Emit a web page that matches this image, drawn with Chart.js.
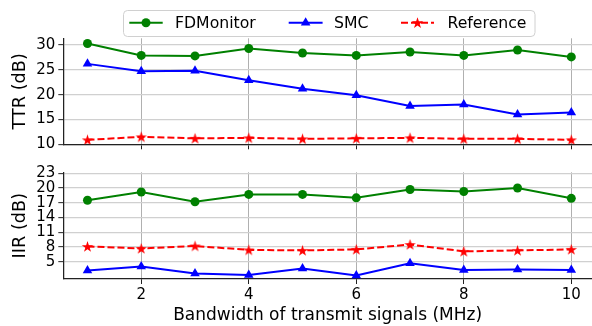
<!DOCTYPE html>
<html><head><meta charset="utf-8">
<script src="https://cdn.jsdelivr.net/npm/chart.js@4"></script>
<style>
html,body{margin:0;padding:0;background:#fff;overflow:hidden;width:592px;height:326px;}
#c1{position:absolute;left:0;top:0;}
#c2{position:absolute;left:0;top:160px;}
</style></head><body>
<canvas id="c1" width="600" height="160"></canvas>
<canvas id="c2" width="600" height="166"></canvas>
<script>
const bandwidth = [1, 2, 3, 4, 5, 6, 7, 8, 9, 10];
const ttrFDMonitor = [30.3, 27.9, 27.8, 29.3, 28.4, 27.9, 28.6, 27.9, 29.0, 27.6];
const ttrSMC = [26.2, 24.7, 24.8, 22.9, 21.2, 19.9, 17.7, 18.0, 16.0, 16.4];
const ttrReference = [10.9, 11.5, 11.2, 11.3, 11.1, 11.2, 11.3, 11.1, 11.1, 10.9];
const iirFDMonitor = [17.5, 19.2, 17.2, 18.7, 18.7, 18.0, 19.7, 19.3, 20.0, 17.9];
const iirSMC = [3.2, 4.0, 2.6, 2.3, 3.6, 2.2, 4.7, 3.3, 3.4, 3.3];
const iirReference = [8.1, 7.7, 8.2, 7.4, 7.3, 7.5, 8.5, 7.1, 7.3, 7.5];
const xTicks = [2, 4, 6, 8, 10];
const ttrTicks = [10, 15, 20, 25, 30];
const iirTicks = [5, 8, 11, 14, 17, 20, 23];
const seriesNames = ['FDMonitor', 'SMC', 'Reference'];

const GREEN = '#008000', BLUE = '#0000ff', RED = '#ff0000';
const FONT = "'DejaVu Sans', sans-serif";

function starPath(ctx, cx, cy, ro) {
  const ri = ro * 0.382;
  ctx.beginPath();
  for (let i = 0; i < 10; i++) {
    const r = i % 2 === 0 ? ro : ri;
    const a = -Math.PI / 2 + i * Math.PI / 5;
    const x = cx + r * Math.cos(a), y = cy + r * Math.sin(a);
    if (i === 0) ctx.moveTo(x, y); else ctx.lineTo(x, y);
  }
  ctx.closePath();
}
function makeStar() {
  const c = document.createElement('canvas');
  c.width = 13; c.height = 13;
  const g = c.getContext('2d');
  starPath(g, 6.5, 7, 6);
  g.fillStyle = RED; g.fill();
  return c;
}
const starImg = makeStar();

function series(vals) { return bandwidth.map((x, i) => ({x: x, y: vals[i]})); }

function datasets(fd, smc, ref) {
  return [
    {label: seriesNames[0], data: series(fd), borderColor: GREEN, backgroundColor: GREEN,
     borderWidth: 2, pointStyle: 'circle', pointRadius: 4.5, pointBorderWidth: 0, tension: 0},
    {label: seriesNames[1], data: series(smc), borderColor: BLUE, backgroundColor: BLUE,
     borderWidth: 2, pointStyle: 'triangle', pointRadius: 5.5, pointBorderWidth: 0, tension: 0},
    {label: seriesNames[2], data: series(ref), borderColor: RED, backgroundColor: RED,
     borderWidth: 2, borderDash: [7, 3], pointStyle: starImg, pointRadius: 6, tension: 0}
  ];
}

const legendPlugin = {
  id: 'mplLegend',
  afterDraw(chart) {
    const ctx = chart.ctx;
    ctx.save();
    const x0 = 123.5, y0 = 10.5, w = 411.5, h = 26, r = 4;
    ctx.beginPath();
    ctx.moveTo(x0 + r, y0); ctx.lineTo(x0 + w - r, y0); ctx.quadraticCurveTo(x0 + w, y0, x0 + w, y0 + r);
    ctx.lineTo(x0 + w, y0 + h - r); ctx.quadraticCurveTo(x0 + w, y0 + h, x0 + w - r, y0 + h);
    ctx.lineTo(x0 + r, y0 + h); ctx.quadraticCurveTo(x0, y0 + h, x0, y0 + h - r);
    ctx.lineTo(x0, y0 + r); ctx.quadraticCurveTo(x0, y0, x0 + r, y0);
    ctx.closePath();
    ctx.fillStyle = 'rgba(255,255,255,0.85)'; ctx.fill();
    ctx.strokeStyle = '#d0d0d0'; ctx.lineWidth = 1; ctx.stroke();
    const ly = 22.7;
    const items = [
      {c: GREEN, l1: 129.3, l2: 162.7, t: 175, m: 'circle', dash: []},
      {c: BLUE, l1: 288.7, l2: 322.6, t: 334, m: 'triangle', dash: []},
      {c: RED, l1: 401, l2: 434, t: 447.5, m: 'star', dash: [7, 3]}
    ];
    items.forEach((it, i) => {
      ctx.beginPath(); ctx.setLineDash(it.dash);
      ctx.strokeStyle = it.c; ctx.lineWidth = 2;
      ctx.moveTo(it.l1, ly); ctx.lineTo(it.l2, ly); ctx.stroke();
      ctx.setLineDash([]);
      const mx = (it.l1 + it.l2) / 2;
      ctx.fillStyle = it.c;
      if (it.m === 'circle') { ctx.beginPath(); ctx.arc(mx, ly, 4.5, 0, Math.PI * 2); ctx.fill(); }
      else if (it.m === 'triangle') {
        ctx.beginPath(); ctx.moveTo(mx, ly - 5.5); ctx.lineTo(mx + 4.8, ly + 2.8); ctx.lineTo(mx - 4.8, ly + 2.8); ctx.closePath(); ctx.fill();
      } else { starPath(ctx, mx, ly + 0.5, 6); ctx.fill(); }
      ctx.fillStyle = '#000'; ctx.font = '15.7px ' + FONT; ctx.textBaseline = 'alphabetic'; ctx.textAlign = 'left';
      ctx.fillText(seriesNames[i], it.t, 28.2);
    });
    ctx.restore();
  }
};

function makeChart(canvas, ds, yTicks, ymin, ymax, yTitle, opts) {
  return new Chart(canvas, {
    type: 'line',
    data: {datasets: ds},
    plugins: opts.plugins || [],
    options: {
      responsive: false, animation: false, devicePixelRatio: 1,
      layout: {padding: {top: opts.padTop, left: 0, right: 0, bottom: 0}},
      plugins: {legend: {display: false}, tooltip: {enabled: false}},
      scales: {
        x: {
          type: 'linear', min: 0.55, max: 10.385,
          afterBuildTicks: s => { s.ticks = xTicks.map(v => ({value: v})); },
          afterFit: s => { s.height = opts.xHeight; },
          grid: {color: '#b0b0b0', lineWidth: 1, tickColor: '#222', tickLength: 5, tickWidth: 1},
          border: {display: true, color: '#222', width: 1.25},
          ticks: {display: opts.showX, color: '#000', font: {family: FONT, size: 15}, padding: 2, maxRotation: 0, autoSkip: false},
          title: {display: opts.showX, text: 'Bandwidth of transmit signals (MHz)', color: '#000',
                  font: {family: FONT, size: 17}, padding: {top: 0, bottom: 0}}
        },
        y: {
          type: 'linear', min: ymin, max: ymax,
          afterBuildTicks: s => { s.ticks = yTicks.map(v => ({value: v})); },
          afterFit: s => { s.width = 63.3; },
          grid: {color: '#d0d0d0', lineWidth: 1.3, tickColor: '#222', tickLength: 5, tickWidth: 1},
          border: {display: true, color: '#222', width: 1.25},
          ticks: {color: '#000', font: {family: FONT, size: 15}, padding: 3, autoSkip: false},
          title: {display: true, text: yTitle, color: '#000', font: {family: FONT, size: 17.7},
                  padding: {top: 10, bottom: 0}}
        }
      }
    }
  });
}

makeChart(document.getElementById('c1'), datasets(ttrFDMonitor, ttrSMC, ttrReference),
  ttrTicks, 10, 31.35, 'TTR (dB)', {padTop: 38.3, xHeight: 15.7, showX: false, plugins: [legendPlugin]});
makeChart(document.getElementById('c2'), datasets(iirFDMonitor, iirSMC, iirReference),
  iirTicks, 1.48, 23.2, 'IIR (dB)', {padTop: 12.3, xHeight: 47, showX: true});
</script>
</body></html>
